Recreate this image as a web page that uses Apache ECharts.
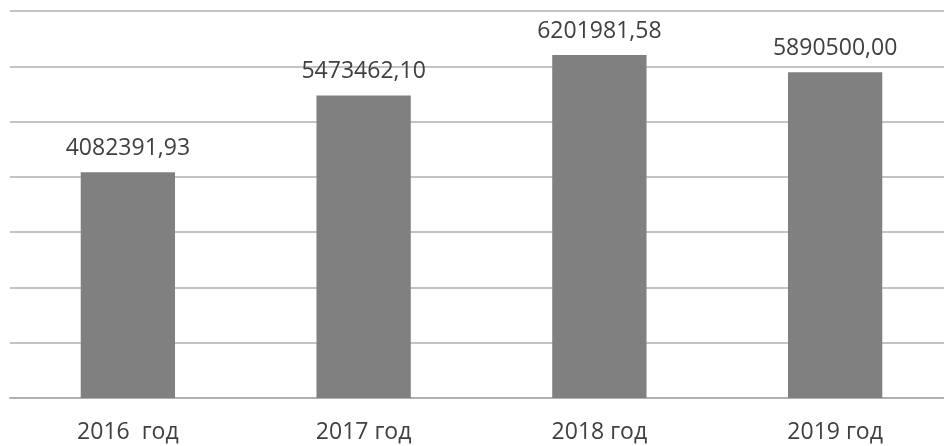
<!DOCTYPE html>
<html>
<head>
<meta charset="utf-8">
<script src="https://cdn.jsdelivr.net/npm/echarts@6/dist/echarts.min.js"></script>
<style>
    html, body { margin: 0; padding: 0; background: #fff; overflow: hidden; }
    #chart { width: 953px; height: 446px; }
</style>
</head>
<body>
<div id="chart"></div>
<script>
var years = ['2016  год', '2017 год', '2018 год', '2019 год'];
var amounts = [4082391.93, 5473462.10, 6201981.58, 5890500.00];

// формат как в исходнике: запятая вместо точки, два знака
function fmt(v) {
    return v.toFixed(2).replace('.', ',');
}

var myChart = echarts.init(document.getElementById('chart'));
myChart.setOption({
    animation: false,
    textStyle: {fontFamily: 'Open Sans'},
    grid: {left: 10, right: 0, top: 11, bottom: 48},
    xAxis: {
        type: 'category',
        data: years,
        axisTick: {show: false},
        axisLine: {lineStyle: {color: '#b0b0b0', width: 2}},
        axisLabel: {color: '#404040', fontSize: 23, margin: 23}
    },
    yAxis: {
        type: 'value',
        min: 0,
        max: 7000000,
        interval: 1000000,
        axisLabel: {show: false},
        axisLine: {show: false},
        axisTick: {show: false},
        splitLine: {lineStyle: {color: '#c4c4c4', width: 2}}
    },
    series: [{
        type: 'bar',
        data: amounts,
        barWidth: '40%',
        itemStyle: {color: '#808080'},
        label: {
            show: true,
            position: 'top',
            distance: 12,
            color: '#404040',
            fontSize: 23,
            formatter: function (p) { return fmt(p.value); }
        }
    }]
});
</script>
</body>
</html>
